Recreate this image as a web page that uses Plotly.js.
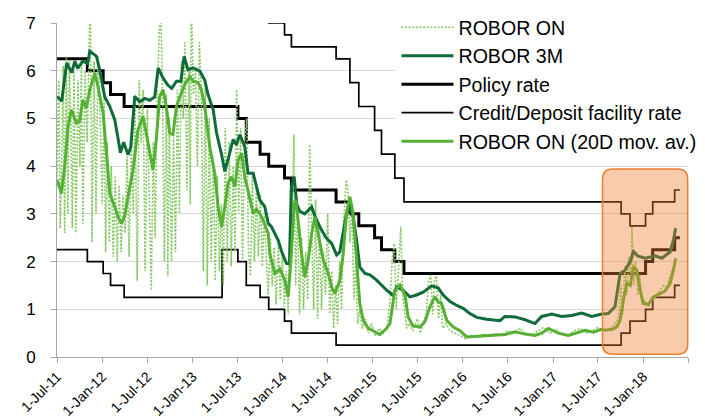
<!DOCTYPE html>
<html>
<head>
<meta charset="utf-8">
<script src="https://cdn.plot.ly/plotly-3.0.1.min.js"></script>
<style>html,body{margin:0;padding:0;background:#fff;}#chart{width:705px;height:418px;}</style>
</head>
<body>
<div id="chart"></div>
<script>
// ROBOR ON (daily, dotted)
const onDates = ['2011-07-01','2011-07-08','2011-07-14','2011-07-20','2011-07-26','2011-08-01','2011-08-08','2011-08-14','2011-08-20','2011-08-26',
'2011-09-01','2011-09-08','2011-09-16','2011-09-24','2011-10-02','2011-10-08','2011-10-14','2011-10-23','2011-10-31','2011-11-08',
'2011-11-13','2011-11-20','2011-11-28','2011-12-06','2011-12-14','2011-12-23','2011-12-31','2012-01-08','2012-01-14','2012-01-21',
'2012-01-29','2012-02-06','2012-02-14','2012-02-22','2012-03-01','2012-03-09','2012-03-17','2012-03-25','2012-04-02','2012-04-10',
'2012-04-18','2012-04-27','2012-05-05','2012-05-12','2012-05-21','2012-05-29','2012-06-06','2012-06-14','2012-06-22','2012-07-01',
'2012-07-09','2012-07-17','2012-07-25','2012-08-02','2012-08-10','2012-08-17','2012-08-23','2012-08-31','2012-09-08','2012-09-16',
'2012-09-22','2012-09-28','2012-10-07','2012-10-15','2012-10-23','2012-10-31','2012-11-08','2012-11-16','2012-11-24','2012-11-30',
'2012-12-09','2012-12-17','2012-12-22','2012-12-26','2013-01-04','2013-01-12','2013-01-20','2013-01-28','2013-02-05','2013-02-13',
'2013-02-21','2013-03-01','2013-03-09','2013-03-17','2013-03-25','2013-04-02','2013-04-11','2013-04-19','2013-04-27','2013-05-05',
'2013-05-13','2013-05-21','2013-05-29','2013-06-06','2013-06-14','2013-06-22','2013-06-28','2013-07-06','2013-07-14','2013-07-22',
'2013-07-30','2013-08-08','2013-08-15','2013-08-23','2013-08-31','2013-09-08','2013-09-16','2013-09-24','2013-10-02','2013-10-10',
'2013-10-18','2013-10-26','2013-11-03','2013-11-11','2013-11-19','2013-11-27','2013-12-05','2013-12-14','2013-12-22','2013-12-30',
'2014-01-07','2014-01-15','2014-01-23','2014-01-31','2014-02-08','2014-02-15','2014-02-22','2014-03-02','2014-03-10','2014-03-18',
'2014-03-26','2014-04-04','2014-04-12','2014-04-20','2014-04-28','2014-05-06','2014-05-14','2014-05-22','2014-05-30','2014-06-07',
'2014-06-15','2014-06-23','2014-07-02','2014-07-10','2014-07-18','2014-07-26','2014-08-03','2014-08-11','2014-08-19','2014-08-27',
'2014-09-04','2014-09-15','2014-09-22','2014-09-30','2014-10-08','2014-10-16','2014-10-24','2014-11-01','2014-11-09','2014-11-19',
'2014-12-02','2014-12-14','2014-12-26','2015-01-11','2015-01-27','2015-02-12','2015-02-28','2015-03-12','2015-03-21','2015-03-29',
'2015-04-06','2015-04-14','2015-04-24','2015-05-02','2015-05-10','2015-05-18','2015-05-28','2015-06-13','2015-06-30','2015-07-12',
'2015-07-24','2015-08-05','2015-08-15','2015-08-24','2015-08-31','2015-09-08','2015-09-16','2015-09-24','2015-10-03','2015-10-11',
'2015-10-25','2015-11-10','2015-11-30','2015-12-21','2016-01-11','2016-02-04','2016-02-29','2016-03-24','2016-04-18','2016-05-12',
'2016-06-05','2016-06-30','2016-07-25','2016-08-18','2016-09-12','2016-10-06','2016-10-31','2016-11-24','2016-12-19','2017-01-12',
'2017-02-06','2017-03-02','2017-03-26','2017-04-20','2017-05-14','2017-06-08','2017-07-02','2017-07-27','2017-08-20','2017-09-09',
'2017-09-22','2017-10-02','2017-10-10','2017-10-18','2017-10-26','2017-11-03','2017-11-12','2017-11-16','2017-11-23','2017-12-01',
'2017-12-10','2017-12-18','2017-12-26','2018-01-04','2018-01-20','2018-02-05','2018-02-21','2018-03-09','2018-03-25','2018-04-06',
'2018-04-19','2018-05-01','2018-05-12'];
const onValues = [3.7,5.8,2.7,4.0,6.1,2.6,6.3,3.0,6.2,5.0,
2.7,6.0,2.6,5.8,4.0,6.2,2.8,6.0,4.5,6.5,
7.6,2.4,6.2,3.0,6.3,5.0,3.2,5.5,2.2,4.5,
2.4,4.0,2.1,3.8,2.0,3.6,2.2,3.4,2.6,4.2,
2.1,4.5,3.0,5.5,1.6,5.8,4.5,5.6,1.8,5.2,
3.5,1.4,4.5,2.5,5.5,6.5,7.5,5.8,2.0,5.5,
1.7,5.0,2.0,4.6,2.2,5.6,3.0,6.2,5.0,6.6,
3.5,6.0,3.2,7.6,5.5,6.0,4.0,6.6,5.5,1.8,
5.8,1.5,5.0,2.0,4.2,1.6,3.8,1.8,3.2,1.5,
4.8,2.0,4.5,1.9,4.0,2.2,5.6,3.0,4.8,2.0,
4.5,5.0,2.2,1.7,3.8,2.0,3.6,2.1,3.4,1.9,
3.0,2.1,1.3,2.5,1.5,2.3,1.1,2.4,1.2,2.2,
1.05,1.8,0.9,3.5,2.5,4.66,1.5,3.2,0.9,2.5,
1.0,2.2,1.2,4.45,2.5,1.0,3.3,0.8,2.8,1.0,
2.2,1.3,3.0,0.9,1.8,0.6,1.5,0.7,2.0,1.0,
2.8,3.71,3.5,2.4,3.2,1.2,2.0,0.7,1.0,0.6,
0.8,0.5,0.7,0.45,0.6,0.5,0.65,1.2,2.1,2.38,
1.0,1.9,2.73,1.3,0.9,0.6,0.7,0.55,0.8,0.5,
0.7,0.9,1.6,1.72,0.9,1.6,1.7,0.8,1.3,0.6,
0.7,0.55,0.5,0.45,0.38,0.45,0.42,0.48,0.43,0.5,
0.45,0.55,0.5,0.6,0.48,0.45,0.55,0.62,0.5,0.58,
0.48,0.45,0.55,0.6,0.5,0.55,0.62,0.55,0.6,0.7,
0.8,1.5,0.9,1.9,1.3,2.1,1.6,2.73,1.5,2.0,
1.3,1.7,1.1,1.2,1.05,1.2,1.25,1.4,1.5,1.45,
1.7,1.85,2.0];

// ROBOR 3M
const m3Dates = ['2011-07-01','2011-07-20','2011-08-09','2011-08-30','2011-09-11','2011-09-23','2011-10-13','2011-11-02','2011-11-11','2011-12-08',
'2011-12-21','2012-01-10','2012-01-31','2012-02-20','2012-03-03','2012-03-14','2012-03-27','2012-04-14','2012-04-25','2012-05-11',
'2012-05-31','2012-06-21','2012-07-11','2012-07-31','2012-08-14','2012-09-02','2012-09-22','2012-10-08','2012-10-27','2012-11-14',
'2012-11-27','2012-12-13','2013-01-02','2013-01-30','2013-02-19','2013-03-04','2013-03-25','2013-04-07','2013-04-28','2013-05-11',
'2013-05-31','2013-06-14','2013-06-27','2013-07-11','2013-07-31','2013-08-13','2013-09-03','2013-09-16','2013-09-30','2013-10-20',
'2013-11-03','2013-11-16','2013-11-30','2013-12-13','2013-12-28','2014-01-16','2014-01-28','2014-02-05','2014-02-16','2014-02-27',
'2014-03-11','2014-03-31','2014-04-28','2014-05-11','2014-05-31','2014-06-25','2014-07-18','2014-08-07','2014-08-20','2014-09-03',
'2014-09-16','2014-09-30','2014-10-13','2014-10-27','2014-11-09','2014-11-30','2014-12-20','2015-01-16','2015-02-26','2015-03-24',
'2015-04-07','2015-05-03','2015-05-31','2015-06-27','2015-07-24','2015-08-27','2015-09-22','2015-10-13','2015-11-10','2015-12-07',
'2016-01-02','2016-01-29','2016-02-26','2016-04-06','2016-05-30','2016-06-19','2016-07-30','2016-09-09','2016-10-19','2016-11-15',
'2016-12-26','2017-02-04','2017-03-17','2017-04-26','2017-06-06','2017-07-17','2017-08-12','2017-09-08','2017-09-22','2017-09-29',
'2017-10-19','2017-11-09','2017-11-22','2017-12-09','2018-01-08','2018-01-28','2018-02-18','2018-03-17','2018-04-06','2018-04-19',
'2018-05-03','2018-05-12'];
const m3Values = [5.46,5.36,6.16,5.96,6.2,6.05,6.2,6.15,6.41,6.3,
6.02,5.46,5.25,4.97,4.62,4.28,4.5,4.24,4.4,5.46,
5.35,5.42,5.38,5.45,6.06,5.85,5.7,5.63,5.78,5.78,
6.3,6.02,6.06,5.99,5.8,5.5,5.18,4.71,4.24,3.89,
4.28,4.56,4.45,4.66,4.41,3.85,3.85,3.57,3.29,3.15,
2.8,2.73,2.6,2.45,2.2,1.96,1.95,3.57,3.78,3.2,
3.05,3.0,3.15,2.95,2.73,2.5,2.38,2.14,2.2,2.6,
3.01,3.15,2.95,2.45,1.89,1.75,1.72,1.61,1.4,1.29,
1.47,1.4,1.26,1.3,1.36,1.49,1.45,1.3,1.16,1.08,
1.02,0.91,0.83,0.79,0.76,0.85,0.84,0.78,0.7,0.85,
0.9,0.85,0.87,0.92,0.85,0.9,0.91,1.05,1.47,1.75,
1.82,2.0,2.21,2.12,2.07,2.1,2.12,2.07,2.14,2.2,
2.45,2.7];

// ROBOR ON (20D moving average)
const avgDates = ['2011-07-01','2011-07-19','2011-08-01','2011-08-15','2011-08-28','2011-09-18','2011-10-01','2011-10-14','2011-10-28','2011-11-11',
'2011-12-01','2011-12-14','2012-01-04','2012-01-17','2012-01-31','2012-02-20','2012-03-04','2012-03-18','2012-03-31','2012-04-14',
'2012-05-04','2012-05-24','2012-06-14','2012-07-04','2012-07-24','2012-08-07','2012-08-20','2012-09-03','2012-09-16','2012-09-30',
'2012-10-13','2012-10-27','2012-11-10','2012-11-30','2012-12-20','2013-01-02','2013-01-23','2013-02-05','2013-02-19','2013-03-11',
'2013-03-31','2013-04-14','2013-04-28','2013-05-11','2013-05-24','2013-06-07','2013-06-21','2013-07-04','2013-07-18','2013-07-31',
'2013-08-13','2013-09-03','2013-09-16','2013-09-30','2013-10-13','2013-11-03','2013-11-09','2013-11-30','2013-12-20','2014-01-09',
'2014-01-23','2014-02-05','2014-02-16','2014-02-23','2014-03-04','2014-03-18','2014-03-31','2014-04-14','2014-04-28','2014-05-11',
'2014-05-24','2014-06-14','2014-07-04','2014-07-18','2014-07-31','2014-08-20','2014-09-03','2014-09-16','2014-09-30','2014-10-13',
'2014-10-27','2014-11-09','2014-11-23','2014-12-13','2015-01-09','2015-01-29','2015-02-26','2015-03-11','2015-03-31','2015-04-21',
'2015-05-11','2015-05-24','2015-06-13','2015-07-11','2015-07-31','2015-08-20','2015-09-09','2015-09-23','2015-10-07','2015-10-27',
'2015-11-23','2015-12-20','2016-01-16','2016-02-26','2016-04-06','2016-05-17','2016-06-19','2016-07-30','2016-09-09','2016-10-19',
'2016-11-15','2016-12-12','2017-01-21','2017-03-03','2017-04-06','2017-05-10','2017-06-12','2017-07-17','2017-07-30','2017-08-28',
'2017-09-15','2017-09-29','2017-10-12','2017-10-26','2017-11-09','2017-11-22','2017-12-06','2017-12-19','2018-01-01','2018-01-21',
'2018-02-11','2018-03-10','2018-03-30','2018-04-19','2018-05-03','2018-05-12'];
const avgValues = [3.71,3.43,3.99,4.83,5.18,4.9,4.95,5.39,5.22,5.6,
5.95,5.67,5.11,4.27,3.43,3.15,2.94,2.8,2.95,3.36,
3.92,4.76,5.04,4.48,3.92,4.6,5.46,5.6,5.25,4.69,
4.66,5.25,5.46,5.71,5.88,5.78,5.75,5.6,5.25,4.41,
3.85,3.15,2.73,3.15,3.64,3.78,3.57,4.13,4.27,3.78,
3.5,3.01,3.1,3.0,2.87,2.59,2.17,1.75,1.85,1.61,
1.26,2.17,3.22,3.29,2.87,2.17,1.68,2.03,2.59,2.94,
2.59,2.03,1.75,1.47,1.33,1.6,2.17,3.01,3.36,3.01,
2.03,1.12,0.77,0.6,0.53,0.47,0.6,0.7,1.4,1.51,
1.3,0.84,0.65,0.63,0.74,1.05,1.26,1.15,1.12,0.77,
0.63,0.55,0.42,0.43,0.44,0.46,0.47,0.53,0.48,0.45,
0.5,0.6,0.5,0.45,0.5,0.56,0.52,0.58,0.56,0.58,
0.63,0.77,1.19,1.54,1.5,1.89,1.82,1.4,1.12,1.1,
1.26,1.33,1.38,1.54,1.82,2.07];

// Policy rate (step changes)
const policyDates = ['2011-07-01','2011-11-01','2012-01-04','2012-02-03','2012-03-29','2013-07-03','2013-08-06','2013-10-01','2013-11-05','2014-01-08',
'2014-02-05','2014-08-05','2014-09-30','2014-11-05','2015-01-08','2015-02-05','2015-03-31','2015-05-07','2018-01-10','2018-02-08',
'2018-05-08','2018-05-29'];
const policyValues = [6.25,6.0,5.75,5.5,5.25,5.0,4.5,4.25,4.0,3.75,
3.5,3.25,3.0,2.75,2.5,2.25,2.0,1.75,2.0,2.25,
2.5,2.5];

// Credit (lending) / deposit facility rates (step changes)
const facilityDates = ['2011-07-01','2011-11-01','2012-01-04','2012-02-03','2012-03-29','2013-04-30','2013-07-03','2013-08-06','2013-10-01','2013-11-05',
'2014-01-08','2014-02-05','2014-08-05','2014-09-30','2014-11-05','2015-01-08','2015-02-05','2015-03-31','2015-05-07','2017-10-03',
'2017-11-08','2018-01-10','2018-02-08','2018-05-08','2018-05-29'];
const creditValues = [10.25,10.0,9.75,9.5,9.25,8.25,8.0,7.5,7.25,7.0,
6.75,6.5,6.25,5.75,5.25,4.75,4.25,3.75,3.25,3.0,
2.75,3.0,3.25,3.5,3.5];
const depositValues = [2.25,2.0,1.75,1.5,1.25,2.25,2.0,1.5,1.25,1.0,
0.75,0.5,0.25,0.25,0.25,0.25,0.25,0.25,0.25,0.5,
0.75,1.0,1.25,1.5,1.5];

const tickVals = ['2011-07-01','2012-01-01','2012-07-01','2013-01-01','2013-07-01','2014-01-01','2014-07-01','2015-01-01','2015-07-01',
'2016-01-01','2016-07-01','2017-01-01','2017-07-01','2018-01-01','2018-07-01'];
const tickText = ['1-Jul-11','1-Jan-12','1-Jul-12','1-Jan-13','1-Jul-13','1-Jan-14','1-Jul-14','1-Jan-15','1-Jul-15',
'1-Jan-16','1-Jul-16','1-Jan-17','1-Jul-17','1-Jan-18',''];

const traces = [
  {name:'Credit/Deposit facility rate', x: facilityDates.concat([null], facilityDates), y: creditValues.concat([null], depositValues),
   mode:'lines', line:{color:'#000000', width:1.7, shape:'hv'}, connectgaps:false, legendrank:4},
  {name:'Policy rate', x: policyDates, y: policyValues, mode:'lines', line:{color:'#000000', width:3, shape:'hv'}, legendrank:3},
  {name:'ROBOR ON', x: onDates, y: onValues, mode:'lines', line:{color:'#86c864', width:1.6, dash:'2px,1.6px'}, legendrank:1},
  {name:'ROBOR 3M', x: m3Dates, y: m3Values, mode:'lines', line:{color:'#0f6b3a', width:3}, legendrank:2},
  {name:'ROBOR ON (20D mov. av.)', x: avgDates, y: avgValues, mode:'lines', line:{color:'#55b033', width:3}, legendrank:5}
];

// rounded highlight rectangle (paper coordinates)
const bx0 = 0.8645, bx1 = 0.9995, by0 = 0.008, by1 = 0.563, rx = 0.016, ry = 0.030;
const boxPath = `M${bx0+rx},${by0} L${bx1-rx},${by0} Q${bx1},${by0} ${bx1},${by0+ry} L${bx1},${by1-ry} Q${bx1},${by1} ${bx1-rx},${by1} L${bx0+rx},${by1} Q${bx0},${by1} ${bx0},${by1-ry} L${bx0},${by0+ry} Q${bx0},${by0} ${bx0+rx},${by0} Z`;

const layout = {
  width:705, height:418,
  margin:{l:57, r:17, t:23, b:61, pad:0, autoexpand:false},
  paper_bgcolor:'#ffffff', plot_bgcolor:'#ffffff',
  font:{family:'"Liberation Sans", Arial, sans-serif', color:'#000000', size:16},
  showlegend:true,
  xaxis:{type:'date', range:['2011-07-01','2018-07-01'], tickmode:'array', tickvals:tickVals, ticktext:tickText,
         tickangle:-45, ticks:'outside', ticklen:5, tickcolor:'#a6a6a6', showline:true, linecolor:'#a6a6a6', linewidth:1,
         showgrid:false, zeroline:false, automargin:false, tickfont:{size:14, color:'#000'}},
  yaxis:{range:[0,7], tick0:0, dtick:1, ticks:'outside', ticklen:5, tickcolor:'#a6a6a6', showline:true, linecolor:'#a6a6a6',
         linewidth:1, gridcolor:'#d9d9d9', gridwidth:1, zeroline:false, automargin:false, tickfont:{size:17, color:'#000'}, ticklabelstandoff:12},
  legend:{x:0.538, xanchor:'left', y:1.045, yanchor:'top', bgcolor:'#ffffff', borderwidth:0, font:{size:19.6, color:'#000'},
          itemwidth:52, traceorder:'normal'},
  shapes:[{type:'path', xref:'paper', yref:'paper', path:boxPath, fillcolor:'rgba(237,125,49,0.4)',
           line:{color:'#ed7d31', width:1.5}, layer:'above'}]
};

Plotly.newPlot('chart', traces, layout, {displayModeBar:false, staticPlot:true});
</script>
</body>
</html>
